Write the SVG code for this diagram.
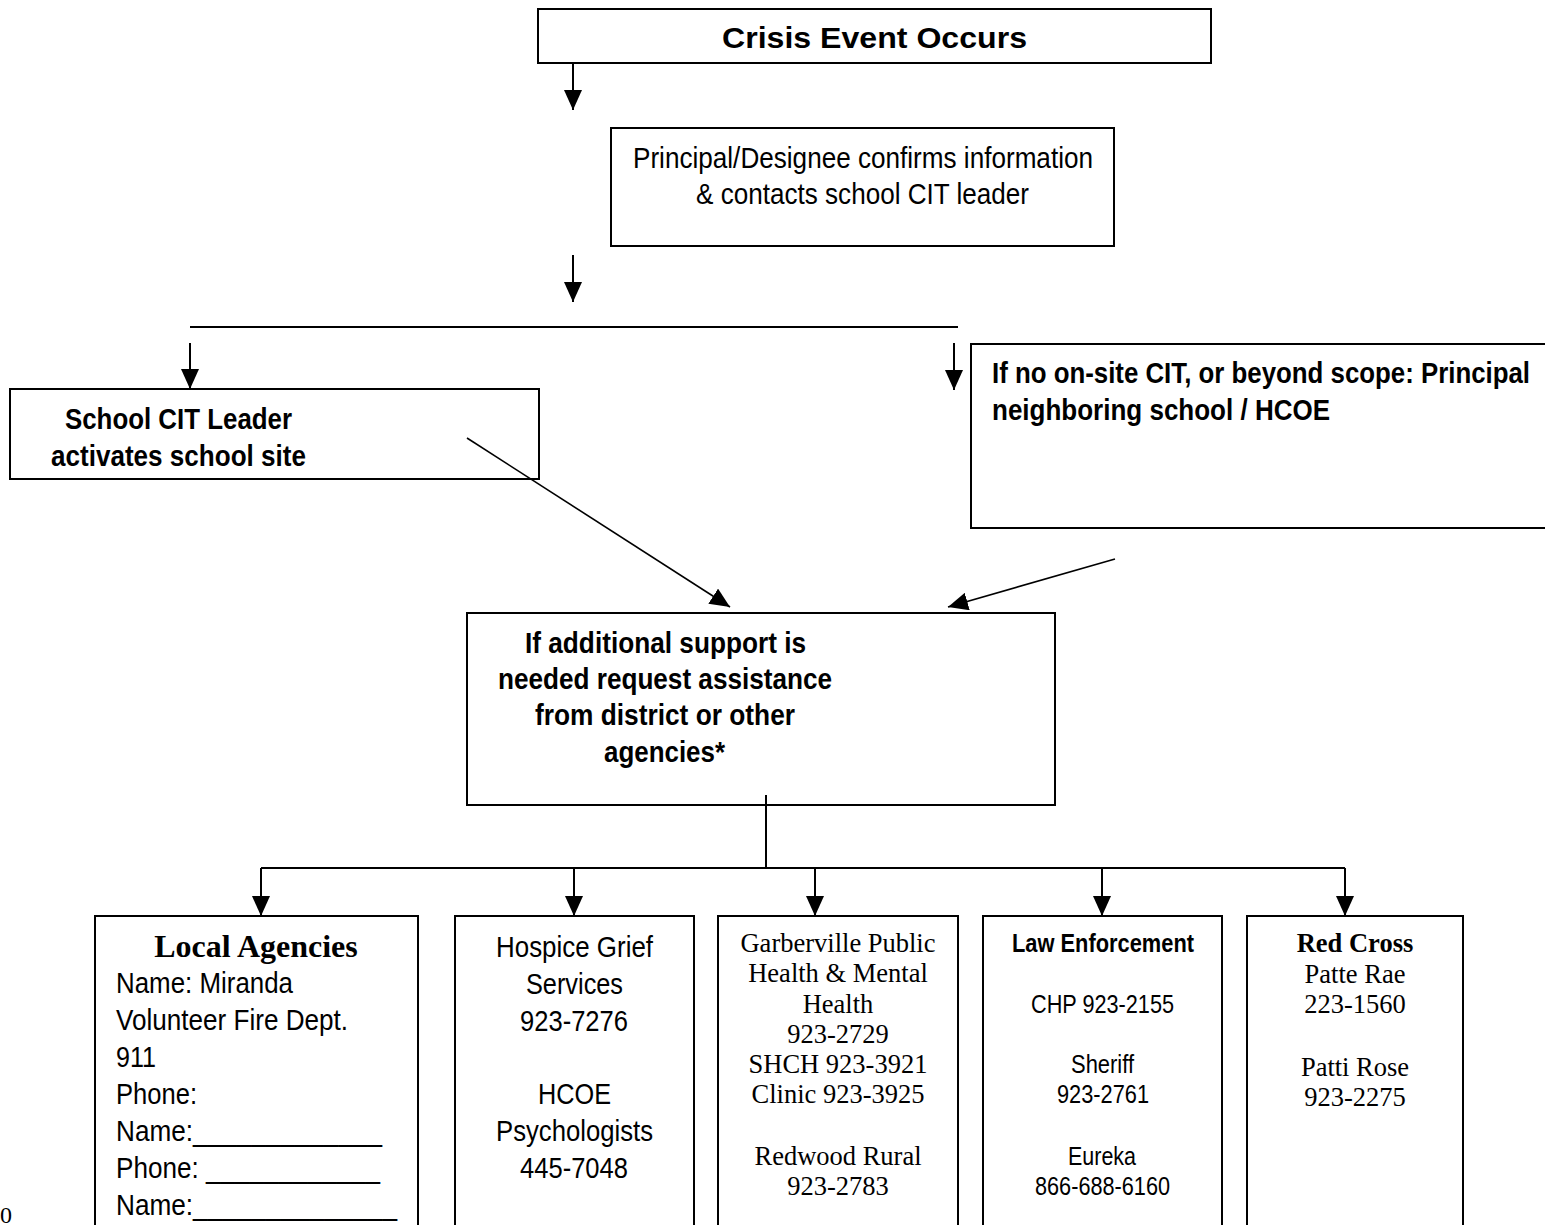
<svg xmlns="http://www.w3.org/2000/svg" width="1545" height="1225" viewBox="0 0 1545 1225">
<style>
.box{fill:#fff;stroke:#000;stroke-width:2}
.ln{fill:none;stroke:#000;stroke-width:2}
.dg{fill:none;stroke:#000;stroke-width:1.6}
.sb{font-family:"Liberation Sans",Arial,sans-serif;font-weight:bold;font-size:29px;fill:#000}
.sr{font-family:"Liberation Sans",Arial,sans-serif;font-size:29px;fill:#000}
.ss{font-family:"Liberation Sans",Arial,sans-serif;font-size:25px;fill:#000}
.tr{font-family:"Liberation Serif","Times New Roman",serif;font-size:26.5px;fill:#000;text-anchor:middle}
.tb{font-family:"Liberation Serif","Times New Roman",serif;font-size:26.5px;font-weight:bold;fill:#000;text-anchor:middle}
</style>
<defs>
<marker id="ah" markerUnits="userSpaceOnUse" markerWidth="20" markerHeight="18" refX="20" refY="9" orient="auto" viewBox="0 0 20 18">
<path d="M0,0 L20,9 L0,18 z" fill="#000"/>
</marker>
</defs>
<rect width="1545" height="1225" fill="#fff"/>

<g id="crisis">
<rect class="box" x="538" y="9" width="673" height="54"/>
<text class="sb" x="722" y="48" textLength="305" lengthAdjust="spacingAndGlyphs">Crisis Event Occurs</text>
</g>

<g id="principal">
<rect class="box" x="611" y="128" width="503" height="118"/>
<text class="sr" x="633" y="168" textLength="460" lengthAdjust="spacingAndGlyphs">Principal/Designee confirms information</text>
<text class="sr" x="696" y="204" textLength="333" lengthAdjust="spacingAndGlyphs">&amp; contacts school CIT leader</text>
</g>

<g id="cit-leader">
<rect class="box" x="10" y="389" width="529" height="90"/>
<text class="sb" x="65" y="429" textLength="227" lengthAdjust="spacingAndGlyphs">School CIT Leader</text>
<text class="sb" x="51" y="466" textLength="255" lengthAdjust="spacingAndGlyphs">activates school site</text>
</g>

<g id="no-cit">
<rect class="box" x="971" y="344" width="600" height="184"/>
<text class="sb" x="992" y="383" textLength="538" lengthAdjust="spacingAndGlyphs">If no on-site CIT, or beyond scope: Principal</text>
<text class="sb" x="992" y="420" textLength="338" lengthAdjust="spacingAndGlyphs">neighboring school / HCOE</text>
</g>

<g id="additional">
<rect class="box" x="467" y="613" width="588" height="192"/>
<text class="sb" x="525" y="653" textLength="281" lengthAdjust="spacingAndGlyphs">If additional support is</text>
<text class="sb" x="498" y="689" textLength="334" lengthAdjust="spacingAndGlyphs">needed request assistance</text>
<text class="sb" x="535" y="725" textLength="260" lengthAdjust="spacingAndGlyphs">from district or other</text>
<text class="sb" x="604" y="762" textLength="121" lengthAdjust="spacingAndGlyphs">agencies*</text>
</g>

<g id="local-agencies">
<rect class="box" x="95" y="916" width="323" height="330"/>
<text class="tb" x="256" y="957" style="font-size:32px">Local Agencies</text>
<text class="sr" x="116" y="993" textLength="177" lengthAdjust="spacingAndGlyphs">Name: Miranda</text>
<text class="sr" x="116" y="1030" textLength="232" lengthAdjust="spacingAndGlyphs">Volunteer Fire Dept.</text>
<text class="sr" x="116" y="1067" textLength="40" lengthAdjust="spacingAndGlyphs">911</text>
<text class="sr" x="116" y="1104" textLength="81" lengthAdjust="spacingAndGlyphs">Phone:</text>
<text class="sr" x="116" y="1141" textLength="266" lengthAdjust="spacingAndGlyphs">Name:_____________</text>
<text class="sr" x="116" y="1178" textLength="264" lengthAdjust="spacingAndGlyphs">Phone: ____________</text>
<text class="sr" x="116" y="1215" textLength="281" lengthAdjust="spacingAndGlyphs">Name:______________</text>
</g>

<g id="hospice">
<rect class="box" x="455" y="916" width="239" height="330"/>
<text class="sr" x="496" y="957" textLength="157" lengthAdjust="spacingAndGlyphs">Hospice Grief</text>
<text class="sr" x="526" y="994" textLength="97" lengthAdjust="spacingAndGlyphs">Services</text>
<text class="sr" x="520" y="1031" textLength="108" lengthAdjust="spacingAndGlyphs">923-7276</text>
<text class="sr" x="538" y="1104" textLength="73" lengthAdjust="spacingAndGlyphs">HCOE</text>
<text class="sr" x="496" y="1141" textLength="157" lengthAdjust="spacingAndGlyphs">Psychologists</text>
<text class="sr" x="520" y="1178" textLength="108" lengthAdjust="spacingAndGlyphs">445-7048</text>
</g>

<g id="garberville">
<rect class="box" x="718" y="916" width="240" height="330"/>
<text class="tr" x="838" y="952">Garberville Public</text>
<text class="tr" x="838" y="982">Health &amp; Mental</text>
<text class="tr" x="838" y="1013">Health</text>
<text class="tr" x="838" y="1043">923-2729</text>
<text class="tr" x="838" y="1073">SHCH 923-3921</text>
<text class="tr" x="838" y="1103">Clinic 923-3925</text>
<text class="tr" x="838" y="1165">Redwood Rural</text>
<text class="tr" x="838" y="1195">923-2783</text>
</g>

<g id="law">
<rect class="box" x="983" y="916" width="239" height="330"/>
<text class="ss" x="1012" y="952" style="font-weight:bold" textLength="182" lengthAdjust="spacingAndGlyphs">Law Enforcement</text>
<text class="ss" x="1031" y="1013" textLength="143" lengthAdjust="spacingAndGlyphs">CHP 923-2155</text>
<text class="ss" x="1071" y="1073" textLength="63" lengthAdjust="spacingAndGlyphs">Sheriff</text>
<text class="ss" x="1057" y="1103" textLength="92" lengthAdjust="spacingAndGlyphs">923-2761</text>
<text class="ss" x="1068" y="1165" textLength="68" lengthAdjust="spacingAndGlyphs">Eureka</text>
<text class="ss" x="1035" y="1195" textLength="135" lengthAdjust="spacingAndGlyphs">866-688-6160</text>
</g>

<g id="red-cross">
<rect class="box" x="1247" y="916" width="216" height="330"/>
<text class="tb" x="1355" y="952">Red Cross</text>
<text class="tr" x="1355" y="983">Patte Rae</text>
<text class="tr" x="1355" y="1013">223-1560</text>
<text class="tr" x="1355" y="1076">Patti Rose</text>
<text class="tr" x="1355" y="1106">923-2275</text>
</g>

<g id="connectors">
<line class="ln" x1="573" y1="63" x2="573" y2="110" marker-end="url(#ah)"/>
<line class="ln" x1="573" y1="255" x2="573" y2="302" marker-end="url(#ah)"/>
<line class="ln" x1="190" y1="327" x2="958" y2="327"/>
<line class="ln" x1="190" y1="343" x2="190" y2="389" marker-end="url(#ah)"/>
<line class="ln" x1="954" y1="343" x2="954" y2="390" marker-end="url(#ah)"/>
<line class="dg" x1="467" y1="438" x2="730" y2="607" marker-end="url(#ah)"/>
<line class="dg" x1="1115" y1="559" x2="948" y2="607" marker-end="url(#ah)"/>
<line class="ln" x1="766" y1="795" x2="766" y2="868"/>
<line class="ln" x1="261" y1="868" x2="1345" y2="868"/>
<line class="ln" x1="261" y1="868" x2="261" y2="916" marker-end="url(#ah)"/>
<line class="ln" x1="574" y1="868" x2="574" y2="916" marker-end="url(#ah)"/>
<line class="ln" x1="815" y1="868" x2="815" y2="916" marker-end="url(#ah)"/>
<line class="ln" x1="1102" y1="868" x2="1102" y2="916" marker-end="url(#ah)"/>
<line class="ln" x1="1345" y1="868" x2="1345" y2="916" marker-end="url(#ah)"/>
</g>

<text x="0" y="1223" style="font-family:'Liberation Serif','Times New Roman',serif;font-size:24px;fill:#000">0</text>
</svg>
